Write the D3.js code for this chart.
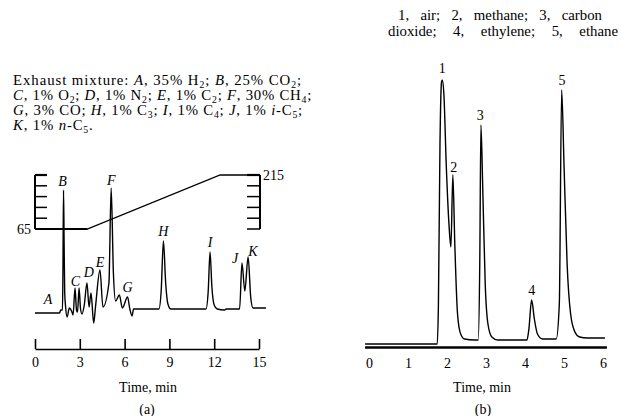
<!DOCTYPE html>
<html><head><meta charset="utf-8">
<script src="https://cdn.jsdelivr.net/npm/d3@7"></script>
<style>
html,body{margin:0;padding:0;background:#fff;}
svg{display:block;}
text{font-family:"Liberation Serif","Times New Roman",serif;fill:#000;}
</style></head>
<body><svg id="c" width="621" height="416"></svg>
<script>
// ---------- DATA ----------
// Chromatogram (a): time in min, detector signal (arbitrary units)
const timeA   = [0,1.65,1.72,1.84,1.87,1.91,1.95,1.99,2.05,2.15,2.3,2.45,2.55,2.68,2.78,2.85,2.95,3.05,3.15,3.3,3.48,3.62,3.75,3.93,4.05,4.35,4.55,4.95,5.1,5.25,5.4,5.65,5.85,6.2,6.35,6.5,6.6,7.0,8.3,8.45,8.6,8.75,8.9,9.1,11.45,11.6,11.72,11.85,12.0,12.2,12.7,12.8,13.7,13.86,14.05,14.27,14.45,14.6,15.47];
const signalA = [0,0,3,3,40,123,70,20,6,-4,5,2,-2,25,3,1,25,4,-1,8,30,6,20,-10,6,43,6,30,125,40,12,18,5,16,4,-3,4,4,4,22,72,30,9,4,4,22,61,25,8,4,3,4,4,50,22,56,15,5,5];
// Temperature program (a)
const progTime = [0,3.5,12.4,15];
const progTemp = [65,65,215,215];
const tempTicks = [65,95,125,155,185,215];
// Peak labels (a)
const peakNamesA = ["A","B","C","D","E","F","G","H","I","J","K"];
const peakTimesA = [0.87,1.85,2.7,3.6,4.35,5.1,6.2,8.6,11.72,13.4,14.6];
const peakLevelsA = [14,132,32,41,51,133,26,82,71,55,62];
const ticksA = [0,3,6,9,12,15];

// Chromatogram (b)
const timeB   = [-0.1,1.75,1.78,1.82,1.86,1.88,1.92,1.98,2.05,2.1,2.15,2.2,2.27,2.35,2.45,2.7,2.8,2.84,2.87,2.92,2.98,3.05,3.15,3.3,3.6,4.05,4.1,4.17,4.24,4.32,4.45,4.8,4.88,4.94,5.0,5.08,5.17,5.28,5.4,5.6,6.0,6.05];
const signalB = [0,0,40,200,262,264,250,180,120,97,169,100,30,10,5,4,4,80,219,150,60,20,7,4,4,4,15,44,25,10,5,5,40,254,180,80,30,12,7,6,6,6];
const peakNamesB = ["1","2","3","4","5"];
const peakTimesB = [1.88,2.17,2.85,4.17,4.95];
const peakLevelsB = [276,177,229,54,264];
const ticksB = [0,1,2,3,4,5,6];

const titleA = [
 "Exhaust mixture: *A*, 35% H_2; *B*, 25% CO_2;",
 "*C*, 1% O_2; *D*, 1% N_2; *E*, 1% C_2; *F*, 30% CH_4;",
 "*G*, 3% CO; *H*, 1% C_3; *I*, 1% C_4; *J*, 1% *i*-C_5;",
 "*K*, 1% *n*-C_5."
];
const titleB = ["1, air; 2, methane; 3, carbon","dioxide; 4, ethylene; 5, ethane"];

// ---------- DRAW ----------
const svg = d3.select("#c");
const FS = 14;
const FT = 14.8;

function richText(g, str, x, y, size){
  const t = g.append("text").attr("x",x).attr("y",y).attr("font-size",size);
  const parts = str.split(/(\*[^*]+\*|_\w)/).filter(s=>s.length);
  let sub=false;
  parts.forEach(p=>{
    if(p[0]==="*"){
      const s=t.append("tspan").attr("font-style","italic").text(p.slice(1,-1));
      if(sub){s.attr("dy",-2.5);sub=false;}
    } else if(p[0]==="_"){
      t.append("tspan").attr("font-size",size*0.66).attr("dy",2.5).text(p.slice(1));
      sub=true;
    } else {
      const s=t.append("tspan").text(p);
      if(sub){s.attr("dy",-2.5);sub=false;}
    }
  });
  return t;
}
function fitLetters(t, target){
  const n = t.text().length;
  const w = t.node().getComputedTextLength();
  const ls = (target - w)/n;
  t.attr("letter-spacing", ls);
  return ls;
}

// Titles (a)
const gT = svg.append("g");
const widthsA = [289, 299, 290];
const baseA = [85,100,115,130];
let lsSum=0;
titleA.forEach((s,i)=>{
  const t = richText(gT, s, 13, baseA[i], FT);
  if(i<3) lsSum += fitLetters(t, widthsA[i]);
  else t.attr("letter-spacing", lsSum/3);
});
// Titles (b)
const widthsB = [204, 230];
const xB0 = [398, 388];
const baseB = [20, 36];
titleB.forEach((s,i)=>{
  const t = gT.append("text").attr("x",xB0[i]).attr("y",baseB[i]).attr("font-size",FT).text(s);
  const w = t.node().getComputedTextLength();
  const ns = (s.match(/ /g)||[]).length;
  t.attr("word-spacing", Math.max(0,(widthsB[i]-w)/ns));
});

// ----- Panel (a) -----
const xA = d3.scaleLinear().domain([0,15]).range([35,259]);
const yA = d3.scaleLinear().domain([0,123]).range([313,190]);
const tY = d3.scaleLinear().domain([65,215]).range([229,175]);

const gA = svg.append("g");
// temperature brackets
gA.append("line").attr("x1",xA(0)).attr("x2",xA(0)).attr("y1",tY(215)).attr("y2",tY(65)).attr("stroke","#000").attr("stroke-width",2);
gA.selectAll(".tl").data(tempTicks).join("line").attr("x1",xA(0)).attr("x2",xA(0)+12)
  .attr("y1",d=>tY(d)).attr("y2",d=>tY(d)).attr("stroke","#000").attr("stroke-width",d=>d===215?2.2:1.5);
const xr = xA(15)+1;
gA.append("line").attr("x1",xr).attr("x2",xr).attr("y1",tY(215)).attr("y2",tY(65)).attr("stroke","#000").attr("stroke-width",2);
gA.selectAll(".tr").data(tempTicks).join("line").attr("x1",xr-13).attr("x2",xr)
  .attr("y1",d=>tY(d)).attr("y2",d=>tY(d)).attr("stroke","#000").attr("stroke-width",d=>d===215?2.2:1.5);
gA.append("text").attr("x",xA(0)-4).attr("y",tY(65)).attr("dy","0.35em").attr("text-anchor","end").attr("font-size",FS).text(progTemp[0]);
gA.append("text").attr("x",xr+3).attr("y",tY(215)).attr("dy","0.35em").attr("font-size",FS).text(progTemp[3]);
// temperature program line
gA.append("path").datum(progTime.map((t,i)=>[t,progTemp[i]]))
  .attr("d",d3.line().x(d=>xA(d[0])).y(d=>tY(d[1])))
  .attr("fill","none").attr("stroke","#000").attr("stroke-width",1.3);
gA.append("line").attr("x1",xA(0)).attr("x2",xA(progTime[1])).attr("y1",tY(65)).attr("y2",tY(65)).attr("stroke","#000").attr("stroke-width",2);
// trace
const lineA = d3.line().x(d=>xA(d[0])).y(d=>yA(d[1])).curve(d3.curveMonotoneX);
gA.append("path").datum(timeA.map((t,i)=>[t,signalA[i]])).attr("d",lineA)
  .attr("fill","none").attr("stroke","#000").attr("stroke-width",1.4).attr("stroke-linejoin","round");
// peak labels
gA.selectAll(".pl").data(peakNamesA).join("text")
  .attr("x",(d,i)=>xA(peakTimesA[i])).attr("y",(d,i)=>yA(peakLevelsA[i])).attr("dy","0.35em")
  .attr("text-anchor","middle").attr("font-size",FS).attr("font-style","italic").text(d=>d);
// axis
const axA = gA.append("g").attr("transform","translate(0,349)")
  .call(d3.axisBottom(xA).tickValues(ticksA).tickFormat(d3.format("d")).tickSize(-10).tickPadding(8).tickSizeOuter(0));
axA.select(".domain").attr("stroke-width",1.6);
axA.selectAll(".tick line").attr("stroke-width",1.6);
axA.selectAll("text").attr("font-size",FS).attr("font-family","Liberation Serif");
gA.append("text").attr("x",148).attr("y",387).attr("dy","0.35em").attr("text-anchor","middle").attr("font-size",FS).text("Time, min");
gA.append("text").attr("x",147).attr("y",409).attr("dy","0.35em").attr("text-anchor","middle").attr("font-size",FS).text("(a)");

// ----- Panel (b) -----
const xB = d3.scaleLinear().domain([0,6]).range([369,603]);
const yB = d3.scaleLinear().domain([0,264]).range([344,80]);
const gB = svg.append("g");
const lineB = d3.line().x(d=>xB(d[0])).y(d=>yB(d[1])).curve(d3.curveMonotoneX);
gB.append("path").datum(timeB.map((t,i)=>[t,signalB[i]])).attr("d",lineB)
  .attr("fill","none").attr("stroke","#000").attr("stroke-width",1.4).attr("stroke-linejoin","round");
gB.selectAll(".pl").data(peakNamesB).join("text")
  .attr("x",(d,i)=>xB(peakTimesB[i])).attr("y",(d,i)=>yB(peakLevelsB[i])).attr("dy","0.35em")
  .attr("text-anchor","middle").attr("font-size",FS).text(d=>d);
const axB = gB.append("g").attr("transform","translate(0,348)")
  .call(d3.axisBottom(xB).tickValues(ticksB).tickFormat(d3.format("d")).tickSize(0).tickPadding(10).tickSizeOuter(0));
axB.select(".domain").remove();
axB.selectAll("text").attr("font-size",FS).attr("font-family","Liberation Serif");
gB.append("line").attr("x1",xB(-0.1)).attr("x2",xB(6.1)).attr("y1",347.5).attr("y2",347.5).attr("stroke","#000").attr("stroke-width",2.5);
gB.append("text").attr("x",482).attr("y",387).attr("dy","0.35em").attr("text-anchor","middle").attr("font-size",FS).text("Time, min");
gB.append("text").attr("x",483).attr("y",409).attr("dy","0.35em").attr("text-anchor","middle").attr("font-size",FS).text("(b)");
</script></body></html>
